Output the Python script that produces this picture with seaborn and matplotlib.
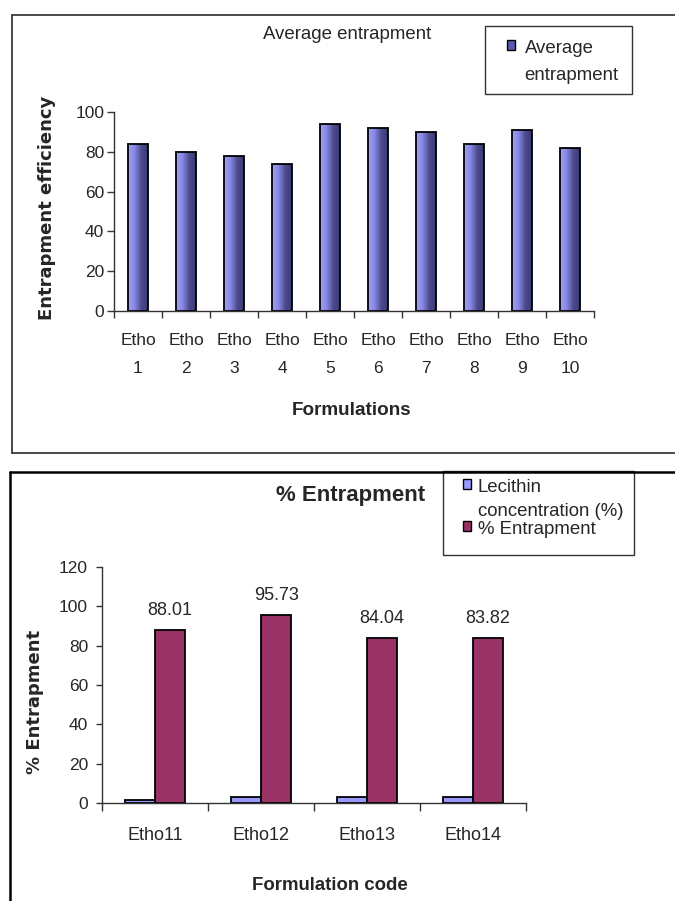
import numpy as np
import pandas as pd
import matplotlib
matplotlib.use("Agg")
import matplotlib.pyplot as plt
import seaborn as sns
from matplotlib.colors import LinearSegmentedColormap
from matplotlib.lines import Line2D
from matplotlib.patches import Rectangle, Patch

# ---------------- data ----------------
formulations = ["Etho\n1", "Etho\n2", "Etho\n3", "Etho\n4", "Etho\n5",
                "Etho\n6", "Etho\n7", "Etho\n8", "Etho\n9", "Etho\n10"]
avg_entrapment = [84, 80, 78, 74, 94, 92, 90, 84, 91, 82]
top_yticks = [0, 20, 40, 60, 80, 100]

codes = ["Etho11", "Etho12", "Etho13", "Etho14"]
lecithin = [1.5, 3, 3, 3]
entrapment = [88.01, 95.73, 84.04, 83.82]
entrapment_labels = ["88.01", "95.73", "84.04", "83.82"]
bottom_yticks = [0, 20, 40, 60, 80, 100, 120]
series_names = ["Lecithin concentration (%)", "% Entrapment"]

# ---------------- style ----------------
sns.set_theme(style="white")
plt.rcParams["font.family"] = ["Liberation Sans", "DejaVu Sans"]
plt.rcParams["axes.linewidth"] = 1.0

W, H = 675, 901
fig = plt.figure(figsize=(W / 100, H / 100), dpi=100)


def axrect(l, t, r, b):
    return [l / W, 1 - b / H, (r - l) / W, (b - t) / H]


def px(x, y):
    return (x / W, 1 - y / H)


# ---------------- outer frames ----------------
def frame_lines(x0, y0, y1, color, lw):
    fig.add_artist(Line2D([x0 / W, x0 / W], [1 - y0 / H, 1 - y1 / H], color=color, lw=lw,
                          transform=fig.transFigure))
    fig.add_artist(Line2D([x0 / W, 1.0], [1 - y0 / H, 1 - y0 / H], color=color, lw=lw,
                          transform=fig.transFigure))
    if y1 < H:
        fig.add_artist(Line2D([x0 / W, 1.0], [1 - y1 / H, 1 - y1 / H], color=color, lw=lw,
                              transform=fig.transFigure))


frame_lines(11.5, 14.5, 452.5, "#3a3a3a", 1.3)
frame_lines(10, 471.5, H + 2, "#000000", 1.8)

axis_color = "#333333"


def top_align_legend(leg):
    # put each legend marker level with the first line of its label
    for col in leg._legend_handle_box.get_children():
        for item in col.get_children():
            item.align = "top"


# ---------------- top chart ----------------
ax1 = fig.add_axes(axrect(114, 112, 594, 311))
df1 = pd.DataFrame({"Formulation": formulations, "Average entrapment": avg_entrapment})
sns.barplot(data=df1, x="Formulation", y="Average entrapment", ax=ax1, color="#9999FF",
            width=0.4, edgecolor="black", linewidth=1.3, saturation=1)

cmap = LinearSegmentedColormap.from_list("bar_grad", ["#A0A0FF", "#8686E4", "#4C4C90", "#3A3A72"])
grad = np.linspace(0, 1, 128).reshape(1, -1)
for p in list(ax1.patches):
    x0, y0, w, h = p.get_x(), p.get_y(), p.get_width(), p.get_height()
    im = ax1.imshow(grad, extent=[x0, x0 + w, y0, y0 + h], aspect="auto", cmap=cmap,
                    zorder=p.get_zorder() + 0.1, interpolation="bilinear")
    im.set_clip_path(p)
    p.set_facecolor("none")
    p.set_zorder(p.get_zorder() + 0.2)

n1 = len(formulations)
ax1.set_xlim(-0.5, n1 - 0.5)
ax1.set_ylim(0, 100)
ax1.set_yticks(top_yticks)
ax1.set_xticks(np.arange(-0.5, n1, 1.0))
ax1.set_xticklabels([])
ax1.set_xticks(np.arange(n1), labels=formulations, minor=True)
ax1.tick_params(axis="x", which="major", bottom=True, length=5, width=1, color=axis_color,
                direction="out")
ax1.tick_params(axis="x", which="minor", bottom=True, length=0, pad=16, labelsize=12.5)
ax1.tick_params(axis="y", left=True, length=5, width=1, color=axis_color, direction="out",
                pad=2, labelsize=12.5)
for lab in ax1.get_xticklabels(minor=True):
    lab.set_linespacing(2.1)
for s in ["top", "right"]:
    ax1.spines[s].set_visible(False)
for s in ["left", "bottom"]:
    ax1.spines[s].set_color(axis_color)

ax1.set_ylabel("Entrapment efficiency", fontsize=13, fontweight="bold", family="DejaVu Sans")
ax1.yaxis.set_label_coords((56 - 114) / 480, 0.52)
ax1.set_xlabel("Formulations", fontsize=13.6, fontweight="bold")
ax1.xaxis.set_label_coords(0.495, (311 - 402) / 199)
ax1.set_title("Average entrapment", fontsize=13.4, x=(347 - 114) / 480,
              y=(311 - 43) / 199, va="center")

# legend box (top)
fig.add_artist(Rectangle(px(485, 94), 147 / W, 68 / H, transform=fig.transFigure,
                         facecolor="white", edgecolor="#333333", lw=1.0))
leg1 = fig.legend(handles=[Patch(facecolor="#5A5AA8", edgecolor="black", lw=1.0,
                                 label="Average\nentrapment")],
                  loc="upper left", bbox_to_anchor=px(494, 27), frameon=False,
                  fontsize=13.4, handlelength=0.45, handleheight=0.45, handletextpad=0.5,
                  borderpad=0.2)
for t in leg1.get_texts():
    t.set_linespacing(1.8)
top_align_legend(leg1)

# ---------------- bottom chart ----------------
ax2 = fig.add_axes(axrect(102, 567, 526, 803))
df2 = pd.DataFrame({
    "code": codes * 2,
    "value": lecithin + entrapment,
    "series": [series_names[0]] * len(codes) + [series_names[1]] * len(codes),
})
sns.barplot(data=df2, x="code", y="value", hue="series", hue_order=series_names,
            palette=["#9999FF", "#993366"], width=0.57, edgecolor="black", linewidth=1.3,
            saturation=1, ax=ax2, legend=False)
ax2.bar_label(ax2.containers[1], labels=entrapment_labels, padding=8, fontsize=13)

n2 = len(codes)
ax2.set_xlim(-0.5, n2 - 0.5)
ax2.set_ylim(0, 120)
ax2.set_yticks(bottom_yticks)
ax2.set_xticks(np.arange(-0.5, n2, 1.0))
ax2.set_xticklabels([])
ax2.set_xticks(np.arange(n2), labels=codes, minor=True)
ax2.tick_params(axis="x", which="major", bottom=True, length=6, width=1, color=axis_color,
                direction="out")
ax2.tick_params(axis="x", which="minor", bottom=True, length=0, pad=17, labelsize=13)
ax2.tick_params(axis="y", left=True, length=4, width=1, color=axis_color, direction="out",
                pad=6, labelsize=12.5)
for s in ["top", "right"]:
    ax2.spines[s].set_visible(False)
for s in ["left", "bottom"]:
    ax2.spines[s].set_color(axis_color)

ax2.set_ylabel("% Entrapment", fontsize=13, fontweight="bold", family="DejaVu Sans")
ax2.yaxis.set_label_coords((44 - 102) / 424, 0.43)
ax2.set_xlabel("Formulation code", fontsize=13.4, fontweight="bold")
ax2.xaxis.set_label_coords((330 - 102) / 424, (803 - 877) / 236)
ax2.set_title("% Entrapment", fontsize=16, fontweight="bold",
              x=(351 - 102) / 424, y=(803 - 504) / 236, va="center")

# legend box (bottom)
fig.add_artist(Rectangle(px(443, 555), 191 / W, 84 / H, transform=fig.transFigure,
                         facecolor="white", edgecolor="#333333", lw=1.0))
leg2 = fig.legend(handles=[Patch(facecolor="#9999FF", edgecolor="black", lw=1.0,
                                 label="Lecithin\nconcentration (%)"),
                           Patch(facecolor="#993366", edgecolor="black", lw=1.0,
                                 label="% Entrapment")],
                  loc="upper left", bbox_to_anchor=px(450, 466), frameon=False,
                  fontsize=13.4, handlelength=0.45, handleheight=0.45, handletextpad=0.35,
                  borderpad=0.2, labelspacing=0.05)
for t in leg2.get_texts():
    t.set_linespacing(1.55)
top_align_legend(leg2)

fig.savefig("out.png", dpi=100)
